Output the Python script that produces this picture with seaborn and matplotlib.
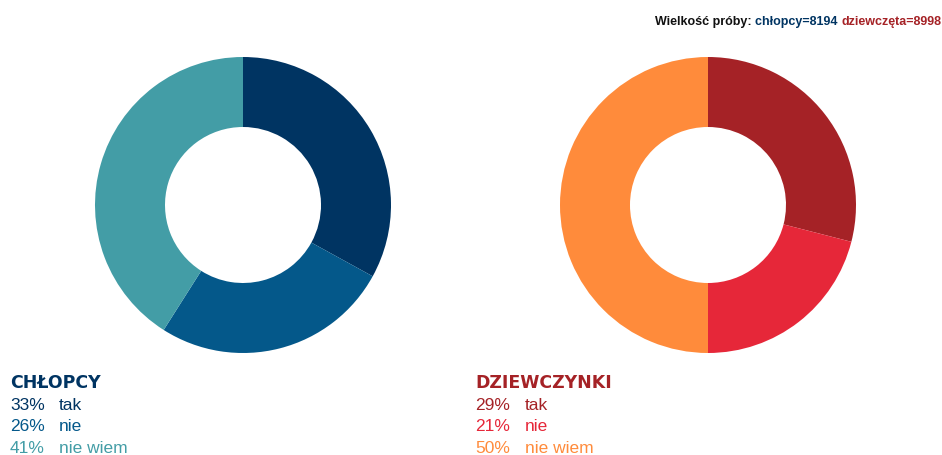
import matplotlib
matplotlib.use("Agg")
import matplotlib.pyplot as plt
import seaborn as sns

sns.set_theme(style="white")
plt.rcParams['font.family'] = ['Liberation Sans', 'DejaVu Sans']

# Data
categories = ["tak", "nie", "nie wiem"]
boys_values = [33, 26, 41]
girls_values = [29, 21, 50]
boys_title = "CHŁOPCY"
girls_title = "DZIEWCZYNKI"
sample_prefix = "Wielkość próby: "
sample_boys = "chłopcy=8194"
sample_girls = "dziewczęta=8998"

boys_colors = sns.color_palette(["#003462", "#04588A", "#439DA6"])
girls_colors = sns.color_palette(["#A52226", "#E62739", "#FF8B3B"])

W, H = 942, 456
fig = plt.figure(figsize=(W / 100, H / 100), dpi=100)
fig.patch.set_facecolor("white")

R = 148
HOLE = 78


def donut(cx, cy, values, colors):
    ax = fig.add_axes([(cx - R) / W, (H - cy - R) / H, 2 * R / W, 2 * R / H])
    ax.pie(values, colors=colors, startangle=90, counterclock=False, radius=1,
           wedgeprops=dict(width=1 - HOLE / R, linewidth=0))
    ax.set_xlim(-1, 1)
    ax.set_ylim(-1, 1)
    ax.set_aspect("equal")
    ax.axis("off")


donut(243, 206, boys_values, boys_colors)
donut(708, 206, girls_values, girls_colors)


def legend(x_pct, x_lab, title, values, colors):
    fig.text(x_pct / W, 1 - 383 / H, title, ha="left", va="center",
             fontsize=12.5, fontweight="heavy", color=colors[0],
             family=["DejaVu Sans"])
    for i, (v, c, cat) in enumerate(zip(values, colors, categories)):
        y = 1 - (405 + i * 22) / H
        fig.text(x_pct / W, y, f"{v}%", ha="left", va="center", fontsize=12.5, color=c)
        fig.text(x_lab / W, y, cat, ha="left", va="center", fontsize=12.5, color=c)


legend(10, 59, boys_title, boys_values, boys_colors)
legend(475, 525, girls_title, girls_values, girls_colors)

# Sample size header, right-aligned multi-colour
renderer = fig.canvas.get_renderer()
x_right = 941 / W
y_top = 1 - 22 / H
parts = [(sample_girls, girls_colors[0]), (sample_boys + " ", boys_colors[0]),
         (sample_prefix, "#111111")]
x = x_right
for txt, col in parts:
    t = fig.text(x, y_top, txt, ha="right", va="center", fontsize=9,
                 fontweight="bold", color=col)
    bb = t.get_window_extent(renderer=renderer)
    x = bb.x0 / W

fig.savefig("out.png", dpi=100, facecolor="white")
